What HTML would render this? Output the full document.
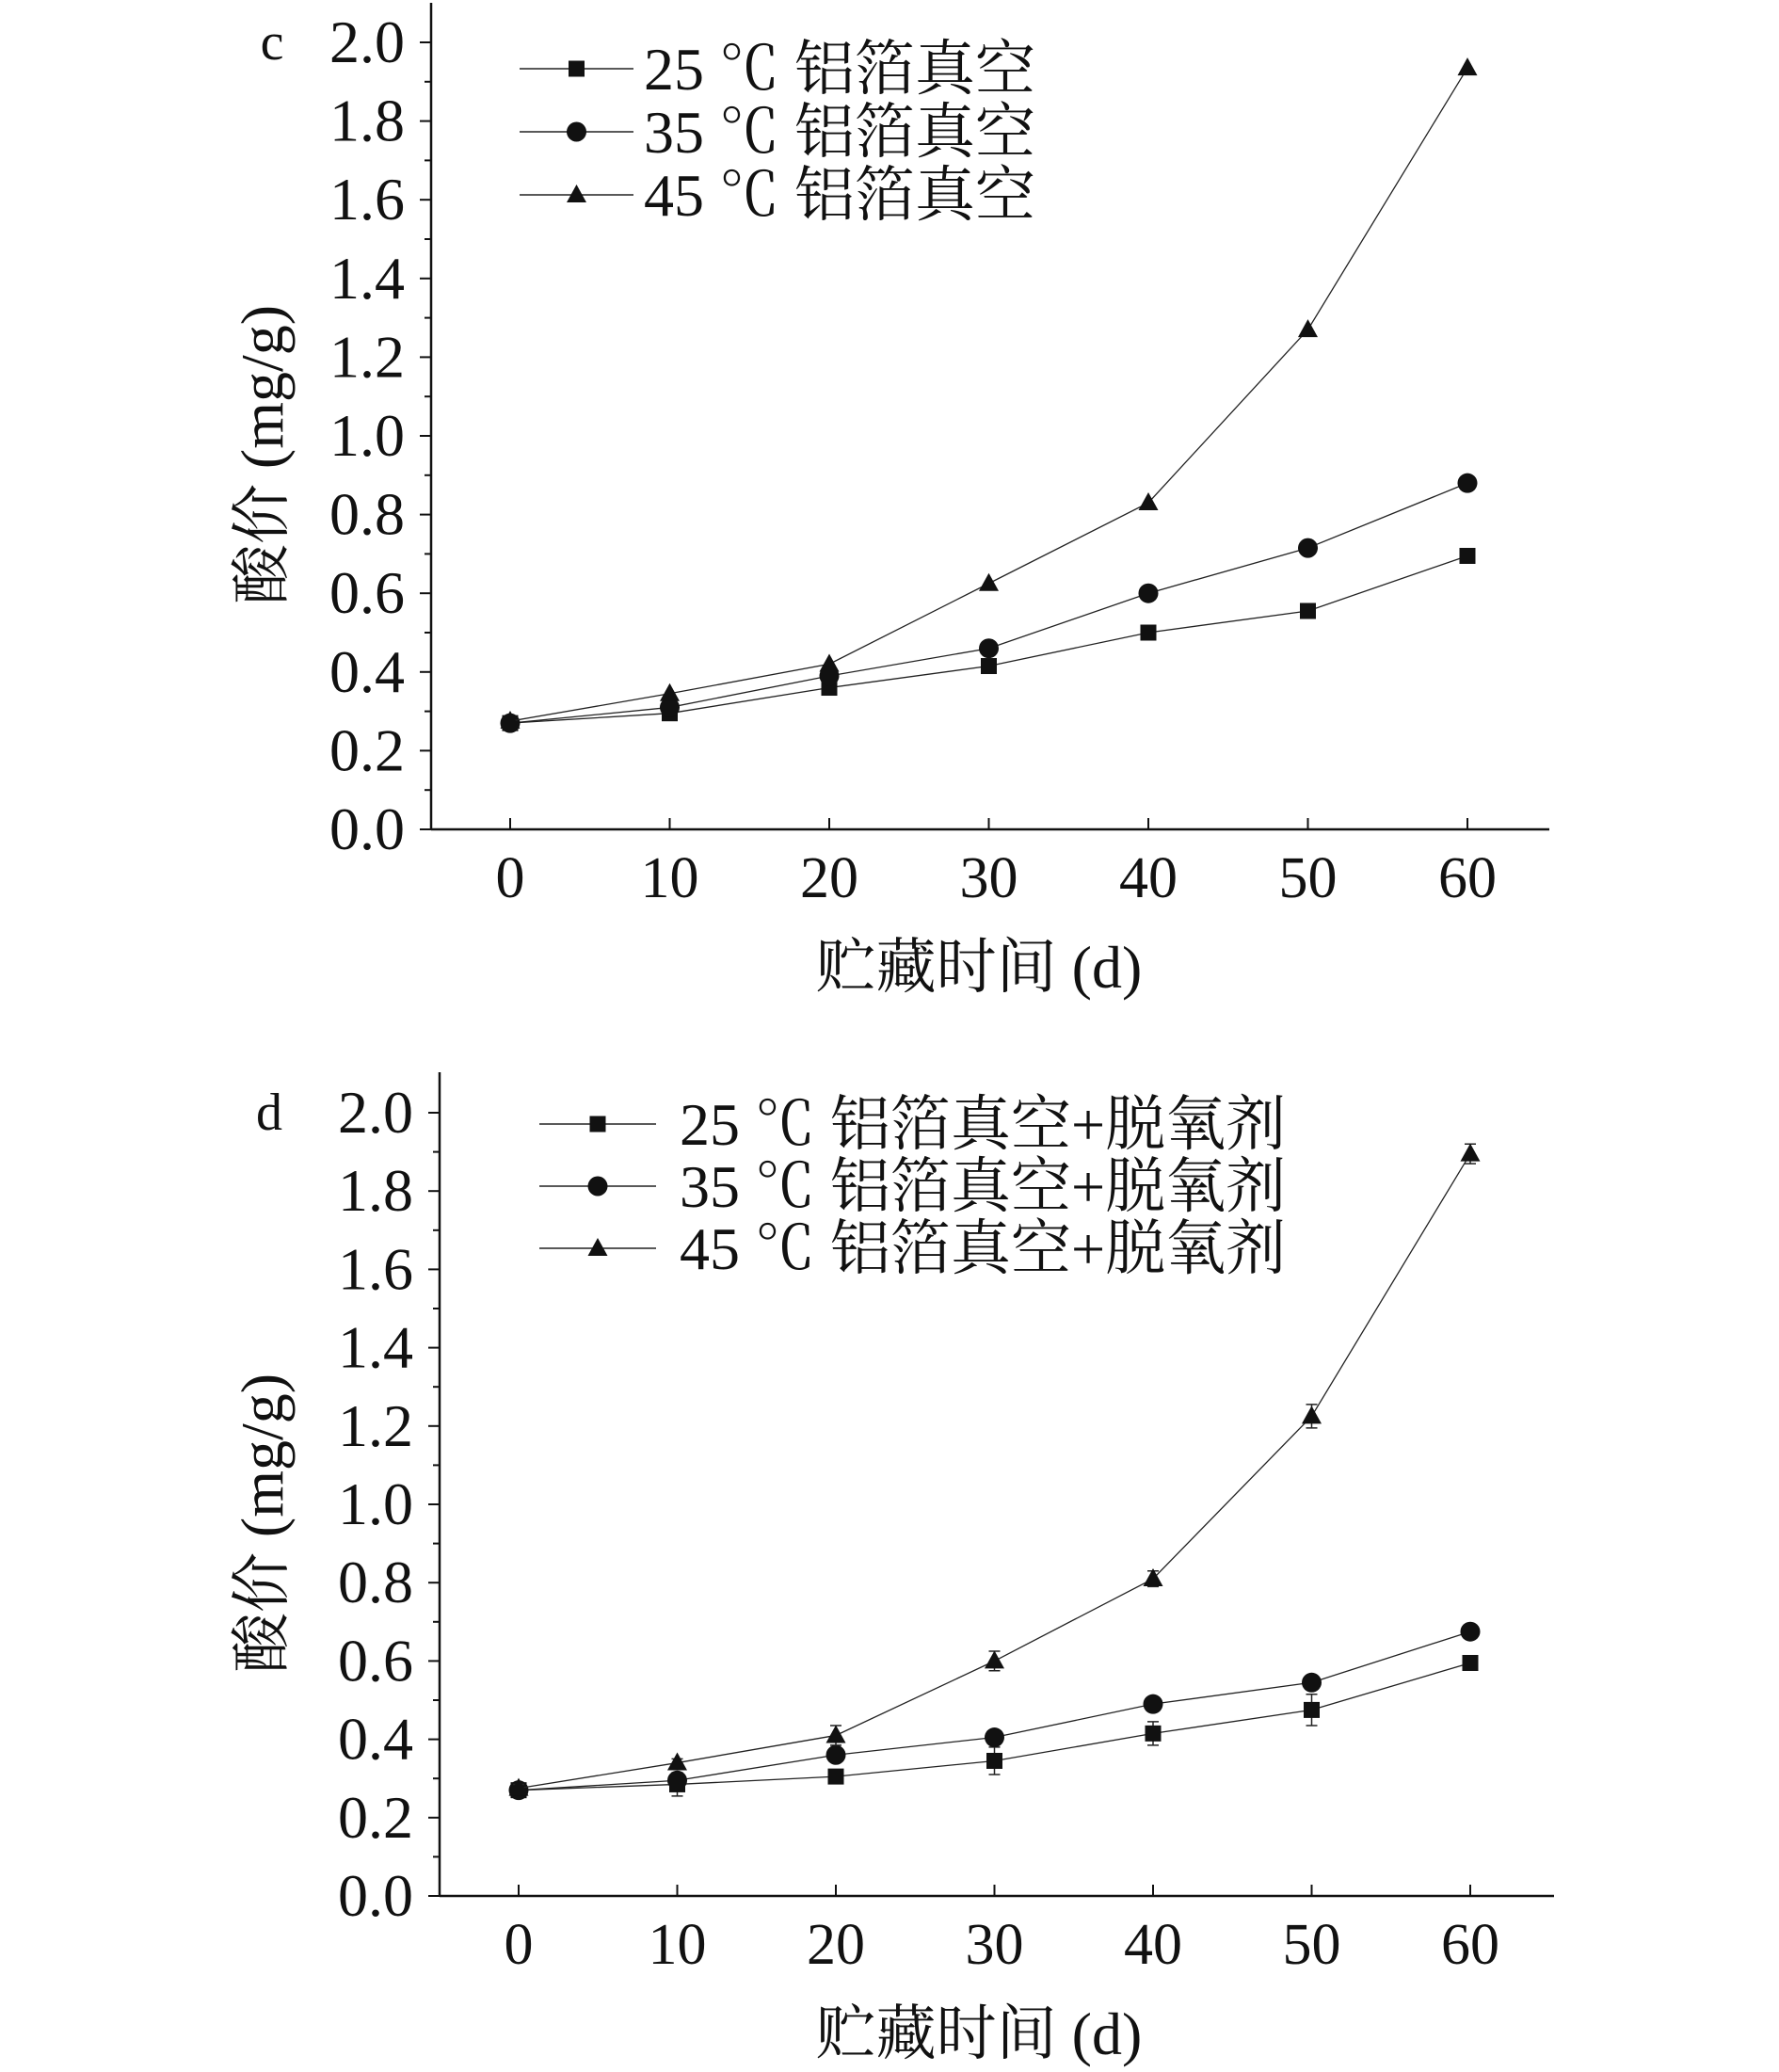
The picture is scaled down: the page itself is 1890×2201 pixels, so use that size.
<!DOCTYPE html>
<html><head><meta charset="utf-8"><style>
html,body{margin:0;padding:0;background:#fff;}
svg text{font-family:"Liberation Serif","Noto Serif CJK SC",serif;fill:#111;}
</style></head><body>
<svg id="fig" width="1890" height="2196" viewBox="0 0 1890 2196" xmlns="http://www.w3.org/2000/svg"></svg>
<script>
const days = [0,10,20,30,40,50,60];
const yTicks = ["0.0","0.2","0.4","0.6","0.8","1.0","1.2","1.4","1.6","1.8","2.0"];
const xTicks = ["0","10","20","30","40","50","60"];
const cSeries25 = [0.27,0.295,0.36,0.415,0.50,0.555,0.695];
const cSeries35 = [0.27,0.31,0.39,0.46,0.60,0.715,0.88];
const cSeries45 = [0.275,0.345,0.42,0.625,0.83,1.27,1.935];
const dSeries25 = [0.27,0.285,0.305,0.345,0.415,0.475,0.595];
const dSeries35 = [0.27,0.295,0.36,0.405,0.49,0.545,0.675];
const dSeries45 = [0.275,0.34,0.41,0.60,0.81,1.225,1.895];
const dErr25 = [0.01,0.03,0.01,0.035,0.03,0.04,0.01];
const dErr35 = [0.01,0.01,0.01,0.01,0.01,0.01,0.01];
const dErr45 = [0.01,0.01,0.025,0.025,0.02,0.03,0.025];
const cTemps = ["25","35","45"];
const cSuffix = "铝箔真空";
const dSuffix = "铝箔真空+脱氧剂";

const NS="http://www.w3.org/2000/svg";
const svg=document.getElementById('fig');
function mk(tag,attrs,parent){const e=document.createElementNS(NS,tag);for(const k in attrs)e.setAttribute(k,attrs[k]);(parent||svg).appendChild(e);return e;}

function marker(g,type,x,y){
  let e;
  if(type===0){e=mk('rect',{x:x-8.5,y:y-8.5,width:17,height:17,fill:'#111'},g);}
  else if(type===1){e=mk('circle',{cx:x,cy:y,r:10.5,fill:'#111'},g);}
  else {e=mk('polygon',{points:`${x},${y-11} ${x-10.5},${y+8} ${x+10.5},${y+8}`,fill:'#111'},g);}
  
  
}

function chart(P){
  const g=mk('g',{});
  
  
  const xs=v=>P.x0+(v/10)*P.dx;
  const ys=v=>P.yb-v*(P.yb-P.y2)/2.0;
  const ya=mk('line',{x1:P.ax,y1:P.top,x2:P.ax,y2:P.yb,stroke:'#111','stroke-width':2.5},g);
  
  const xa=mk('line',{x1:P.ax,y1:P.yb,x2:P.right,y2:P.yb,stroke:'#111','stroke-width':2.5},g);
  
  yTicks.forEach((t,i)=>{
    const v=i*0.2, y=ys(v);
    mk('line',{x1:P.ax-12,y1:y,x2:P.ax,y2:y,stroke:'#111','stroke-width':2},g);
    if(i<yTicks.length-1){const ym=ys(v+0.1);mk('line',{x1:P.ax-7,y1:ym,x2:P.ax,y2:ym,stroke:'#111','stroke-width':2},g);}
    const tx=mk('text',{x:P.ax-28,y:y+21,'text-anchor':'end','font-size':64},g);
    tx.textContent=t;
    
  });
  xTicks.forEach((t,i)=>{
    const x=xs(days[i]);
    mk('line',{x1:x,y1:P.yb-12,x2:x,y2:P.yb,stroke:'#111','stroke-width':2},g);
    const tx=mk('text',{x:x,y:P.yb+72,'text-anchor':'middle','font-size':62},g);
    tx.textContent=t;
    
  });
  const xt=mk('text',{x:P.xtX,y:P.yb+168,'text-anchor':'middle','font-size':64},g);
  xt.textContent='贮藏时间 (d)';
  
  const yt=mk('text',{x:0,y:0,'text-anchor':'middle','font-size':64,transform:`translate(${P.ytX},${(P.yb+P.y2)/2+20}) rotate(-90)`},g);
  yt.textContent='酸价 (mg/g)';
  
  const pl=mk('text',{x:P.lblX,y:P.y2+18,'font-size':56,'text-anchor':'middle'},g);
  pl.textContent=P.label;
  
  P.series.forEach((s,si)=>{
    const sg=mk('g',{},g);
    
    
    const pts=s.map((v,i)=>xs(days[i])+','+ys(v)).join(' ');
    const ln=mk('polyline',{points:pts,fill:'none',stroke:'#222','stroke-width':1.3},sg);
    
    if(P.errs){
      s.forEach((v,i)=>{
        const e=P.errs[si][i];const x=xs(days[i]);
        const eb=mk('path',{d:`M${x},${ys(v+e)}V${ys(v-e)}M${x-6},${ys(v+e)}H${x+6}M${x-6},${ys(v-e)}H${x+6}`,stroke:'#222','stroke-width':1.5,fill:'none'},sg);
        
      });
    }
    s.forEach((v,i)=>marker(sg,si,xs(days[i]),ys(v)));
  });
  cTemps.forEach((temp,i)=>{
    const y=P.legY+i*P.legDy;
    const lg=mk('g',{},g);
    
    mk('line',{x1:P.legX1,y1:y,x2:P.legX2,y2:y,stroke:'#222','stroke-width':1.5},lg);
    marker(lg,i,(P.legX1+P.legX2)/2,y);
    const tx=mk('text',{x:P.legTx,y:y+22,'font-size':64},lg);
    const t1=mk('tspan',{},tx); t1.textContent=temp+' ';
    const t2=mk('tspan',{style:'font-family:"Noto Serif CJK SC",serif'},tx); t2.textContent='℃';
    const t3=mk('tspan',{},tx); t3.textContent=' '+P.suffix;
  });
}

chart({name:'chart-c',label:'c',ax:458,top:3,yb:881,y2:45,right:1646,x0:542,dx:169.5,
  series:[cSeries25,cSeries35,cSeries45],suffix:cSuffix,legY:73,legDy:67,legX1:552,legX2:673,legTx:684,
  xtX:1040,ytX:300,lblX:289});
chart({name:'chart-d',label:'d',ax:467,top:1139,yb:2014,y2:1182,right:1651,x0:551,dx:168.5,
  series:[dSeries25,dSeries35,dSeries45],errs:[dErr25,dErr35,dErr45],suffix:dSuffix,legY:1194,legDy:66,legX1:573,legX2:697,legTx:722,
  xtX:1040,ytX:300,lblX:286});
</script>
</body></html>
